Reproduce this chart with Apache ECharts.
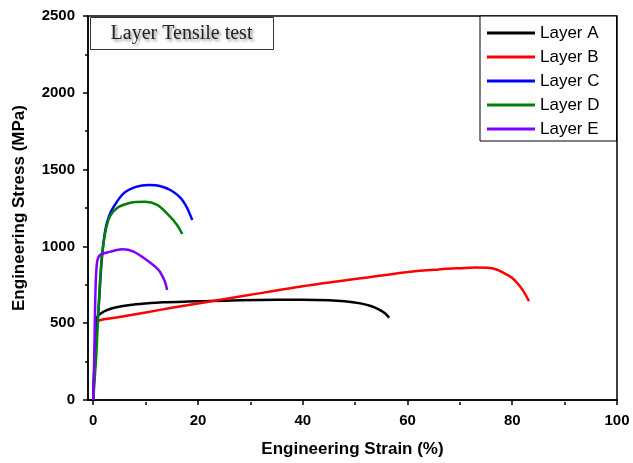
<!DOCTYPE html>
<html>
<head>
<meta charset="utf-8">
<script src="https://cdn.jsdelivr.net/npm/echarts@6/dist/echarts.min.js"></script>
<style>
  html, body { margin: 0; padding: 0; background: #fff; }
  #chart { width: 633px; height: 463px; }
</style>
</head>
<body>
<div id="chart"></div>
<script>
// legend names & colours
var layerNames = ['Layer A', 'Layer B', 'Layer C', 'Layer D', 'Layer E']
var layerColors = ['#000000', '#ff0000', '#0000ff', '#008000', '#8000ff']

// strain (%) / stress (MPa)
var strainA = [0, 0.3, 0.6, 0.8, 1.5, 2.5, 4, 7, 10, 13.4, 18, 22, 28, 35, 40, 45, 48, 51, 53, 54.5, 55.7, 56.5]
var stressA = [0, 300, 500, 542, 565, 583, 600, 618, 628, 636, 641, 644, 649, 652, 653, 650, 643, 629, 612, 590, 565, 535]

var strainB = [0, 0.3, 0.6, 1, 5, 10, 15, 22, 30, 40, 51, 60.6, 66, 69.5, 73, 75.3, 77, 78.5, 80, 81, 82, 83.2]
var stressB = [0, 280, 480, 516, 540, 570, 600, 640, 685, 740, 792, 835, 850, 857, 862, 861, 850, 825, 795, 760, 715, 644]

var strainC = [0, 0.3, 0.6, 1.0, 1.6, 2.3, 3.0, 3.9, 5.8, 8.3, 10.5, 11.9, 13.5, 14.7, 16, 17, 18, 18.9]
var stressC = [0, 250, 450, 586, 900, 1107, 1195, 1258, 1345, 1389, 1400, 1398, 1385, 1367, 1337, 1302, 1245, 1172]

var strainD = [0, 0.3, 0.6, 1.0, 1.7, 2.9, 4.5, 7.1, 9.9, 12.2, 14.4, 16, 17.0]
var stressD = [0, 150, 300, 586, 955, 1172, 1248, 1284, 1291, 1270, 1204, 1140, 1081]

var strainE = [0, 0.2, 0.4, 0.7, 1.3, 3.3, 5.5, 7.7, 10.2, 12.5, 13.3, 13.8, 14.1]
var stressE = [0, 300, 673, 890, 944, 966, 981, 966, 911, 846, 800, 760, 716]

// axis ticks
var xMajorTicks = [0, 20, 40, 60, 80, 100]
var xMinorTicks = [10, 30, 50, 70, 90]

var strains = [strainA, strainB, strainC, strainD, strainE]
var stresses = [stressA, stressB, stressC, stressD, stressE]

var chart = echarts.init(document.getElementById('chart'))

var gridBox = { left: 88, right: 16, top: 16, bottom: 61 }
var labelFont = { fontFamily: 'Liberation Sans', fontWeight: 'bold', fontSize: 15, color: '#000' }

var option = {
    animation: false,
    grid: [
        Object.assign({ show: true, borderColor: '#000', borderWidth: 1.5 }, gridBox),
        Object.assign({}, gridBox)
    ],
    legend: {
        data: layerNames,
        orient: 'vertical',
        left: 480,
        top: 16,
        padding: [7, 17, 2, 7],
        itemGap: 4,
        itemWidth: 48,
        itemHeight: 3,
        icon: 'rect',
        borderColor: '#000',
        borderWidth: 1,
        backgroundColor: '#fff',
        textStyle: { fontFamily: 'Liberation Sans', fontSize: 17, color: '#000', lineHeight: 20 }
    },
    xAxis: [{
        type: 'value',
        gridIndex: 0,
        min: -1,
        max: 100,
        position: 'bottom',
        name: 'Engineering Strain (%)',
        nameLocation: 'middle',
        nameGap: 41,
        nameTextStyle: { fontFamily: 'Liberation Sans', fontWeight: 'bold', fontSize: 17, color: '#000' },
        axisLine: { show: true, onZero: false, lineStyle: { color: '#000', width: 1.5 } },
        axisTick: { show: true, customValues: xMajorTicks, length: 5, lineStyle: { color: '#000', width: 1.5 } },
        axisLabel: Object.assign({ customValues: xMajorTicks, margin: 13 }, labelFont),
        splitLine: { show: false }
    }, {
        type: 'value',
        gridIndex: 1,
        min: -1,
        max: 100,
        position: 'bottom',
        axisLine: { show: false },
        axisTick: { show: true, customValues: xMinorTicks, length: 3, lineStyle: { color: '#000', width: 1.5 } },
        axisLabel: { show: false },
        splitLine: { show: false }
    }],
    yAxis: [{
        type: 'value',
        gridIndex: 0,
        min: 0,
        max: 2500,
        interval: 500,
        name: 'Engineering Stress (MPa)',
        nameLocation: 'middle',
        nameGap: 60,
        nameTextStyle: { fontFamily: 'Liberation Sans', fontWeight: 'bold', fontSize: 17, color: '#000' },
        axisLine: { show: true, onZero: false, lineStyle: { color: '#000', width: 1.5 } },
        axisTick: { show: true, length: 5, lineStyle: { color: '#000', width: 1.5 } },
        minorTick: { show: true, splitNumber: 2, length: 3, lineStyle: { color: '#000', width: 1.5 } },
        axisLabel: Object.assign({ margin: 13, formatter: function (v) { return String(v) } }, labelFont),
        splitLine: { show: false }
    }, {
        type: 'value',
        gridIndex: 1,
        min: 0,
        max: 2500,
        show: false
    }],
    graphic: [{
        type: 'group',
        left: 90,
        top: 17,
        children: [{
            type: 'rect',
            shape: { x: 0, y: 0, width: 183, height: 32 },
            style: { fill: '#fff', stroke: '#333', lineWidth: 1 }
        }, {
            type: 'text',
            x: 91,
            y: 16,
            style: {
                text: 'Layer Tensile test',
                fontFamily: 'Liberation Serif',
                fontSize: 20,
                fill: '#222',
                align: 'center',
                verticalAlign: 'middle',
                textShadowColor: 'rgba(0,0,0,0.45)',
                textShadowBlur: 3,
                textShadowOffsetX: 2,
                textShadowOffsetY: 2
            }
        }]
    }],
    series: layerNames.map(function (name, i) {
        return {
            name: name,
            type: 'line',
            xAxisIndex: 0,
            yAxisIndex: 0,
            symbol: 'none',
            smooth: 0.3,
            color: layerColors[i],
            lineStyle: { width: 2.5, color: layerColors[i] },
            data: strains[i].map(function (s, j) { return [s, stresses[i][j]] })
        }
    })
}

chart.setOption(option)
</script>
</body>
</html>
